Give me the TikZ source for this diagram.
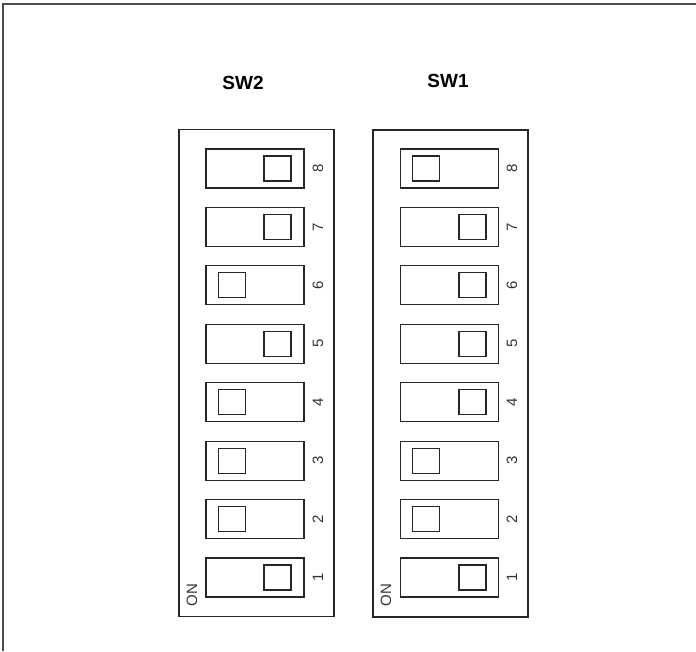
\documentclass[tikz,border=0pt]{standalone}
\usepackage{fontspec}
\setmainfont{Liberation Sans}
\begin{document}
\begin{tikzpicture}[x=1pt,y=-1pt,
  frame/.style={draw=black!70,line width=1.6pt},
  board/.style={draw=black!85,line width=1.3pt,inner sep=0pt,outer sep=0pt,minimum width=155pt,minimum height=487pt},
  slot/.style={draw=black!85,line width=1.2pt,inner sep=0pt,outer sep=0pt,minimum width=98pt,minimum height=39pt},
  knob/.style={draw=black!85,line width=1.2pt,inner sep=0pt,outer sep=0pt,minimum width=27pt,minimum height=25pt},
  numlab/.style={rotate=90,inner sep=0pt,font=\fontsize{15}{15}\selectfont,text=black!80},
  title/.style={inner sep=0pt,font=\fontsize{19}{19}\selectfont\bfseries}]
\useasboundingbox (0,0) rectangle (696,651);
\coordinate (fbl) at (3,651);
\coordinate (ftl) at (3,4);
\coordinate (ftr) at (696,4);
\draw[frame] (fbl) -- (ftl) -- (ftr);
\node[title] (t2) at (243,83) {SW2};
\node[title] (t1) at (448,81) {SW1};
\node[board] (b2) at (256.5,373) {};
\node[board] (b1) at (450.5,373.5) {};
\foreach \n/\kx in {8/277.5,7/277.5,6/232,5/277.5,4/232,3/232,2/232,1/277.5}{
  \pgfmathsetmacro{\yy}{168.5+(8-\n)*58.43}
  \node[slot] (sA\n) at (255,\yy) {};
  \node[knob] (kA\n) at (\kx,\yy) {};
  \node[numlab] (nA\n) at (318,\yy) {\n};
}
\foreach \n/\kx in {8/426,7/472.5,6/472.5,5/472.5,4/472.5,3/426,2/426,1/472.5}{
  \pgfmathsetmacro{\yy}{168.5+(8-\n)*58.43}
  \node[slot] (sB\n) at (449.5,\yy) {};
  \node[knob] (kB\n) at (\kx,\yy) {};
  \node[numlab] (nB\n) at (512,\yy) {\n};
}
\node[numlab] (on2) at (192,595) {ON};
\node[numlab] (on1) at (386,595) {ON};
\end{tikzpicture}
\end{document}
